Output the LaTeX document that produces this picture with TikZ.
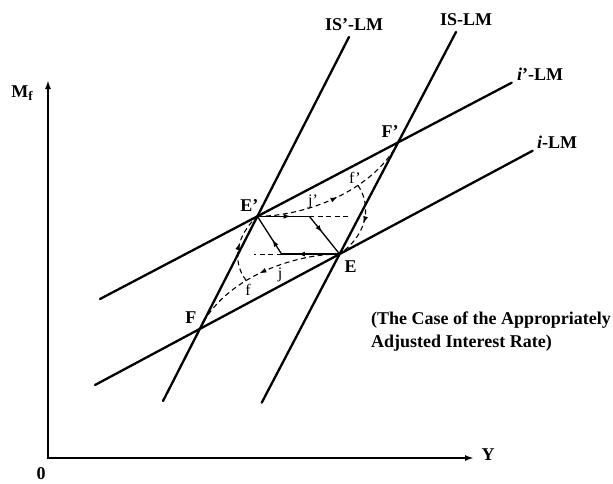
\documentclass[tikz,border=0pt]{standalone}
\usepackage{fontspec}
\setmainfont{Liberation Serif}
\usetikzlibrary{arrows.meta,decorations.markings,calc}
\begin{document}
\begin{tikzpicture}[x=1pt,y=1pt,
  bigline/.style={line width=2.3pt,line cap=round},
  axisline/.style={line width=1.8pt,line join=miter},
  solidseg/.style={line width=1.3pt},
  dsh/.style={line width=1.1pt,dash pattern=on 5pt off 3.5pt},
  lbl/.style={font=\fontsize{18}{22}\selectfont\bfseries,inner sep=0pt},
  sml/.style={font=\fontsize{16}{18}\selectfont,inner sep=0pt},
  marr/.style={postaction={decorate},decoration={markings,mark=at position #1 with {\arrow[solid]{Latex[length=7pt,width=5pt]}}}},
]
\useasboundingbox (0,0) rectangle (613,-483);

% axes
\coordinate (O) at (48,-458);
\coordinate (Ytip) at (474,-458);
\coordinate (Mtip) at (48,-80);
\draw[axisline,{Latex[length=9pt,width=6pt]}-{Latex[length=9pt,width=6pt]}] (Mtip) |- (Ytip);
\node[lbl] (Mf) at (22,-93) {M\raisebox{-3pt}{\fontsize{13}{13}\selectfont f}};
\node[lbl] (zero) at (41,-474) {0};
\node[lbl] (Ylab) at (488,-455) {Y};

% the four lines
\coordinate (ISpB) at (163,-401);   \coordinate (ISpT) at (349,-37);
\coordinate (ISB) at (261.7,-402.7); \coordinate (IST) at (456,-32);
\coordinate (LMpL) at (100,-299);   \coordinate (LMpR) at (511.7,-82.7);
\coordinate (LML) at (95,-385);     \coordinate (LMR) at (532.7,-150.7);
\draw[bigline] (ISpB) -- (ISpT);
\draw[bigline] (ISB) -- (IST);
\draw[bigline] (LMpL) -- (LMpR);
\draw[bigline] (LML) -- (LMR);

\node[lbl] (lISp) at (354,-25) {IS’-LM};
\node[lbl] (lIS) at (466,-20) {IS-LM};
\node[lbl] (lLMp) at (540,-74) {\textit{i}’-LM};
\node[lbl] (lLM) at (557,-142) {\textit{i}-LM};

% intersections
\coordinate (F) at (intersection of ISpB--ISpT and LML--LMR);
\coordinate (Ep) at (intersection of ISpB--ISpT and LMpL--LMpR);
\coordinate (E) at (intersection of ISB--IST and LML--LMR);
\coordinate (Fp) at (intersection of ISB--IST and LMpL--LMpR);

\coordinate (jp) at ($(Ep)+(52,0)$);
\coordinate (jpend) at ($(Ep)+(92,0)$);
\coordinate (j) at ($(E)+(-58,0)$);
\coordinate (jend) at ($(E)+(-86,0)$);

% solid adjustment paths
\draw[solidseg,marr=0.64] (Ep) -- (jp);
\draw[solidseg,marr=0.42] (jp) -- (E);
\draw[solidseg,marr=0.72] (E) -- (j);
\draw[solidseg,marr=0.38] (j) -- (Ep);
\draw[dsh] (jp) -- (jpend);
\draw[dsh] (j) -- (jend);

% dashed curves
\draw[dsh,marr=0.5] (Ep) .. controls ($(Ep)+(46,0)$) and ($(Fp)+(-26,-50)$) .. (Fp) coordinate[pos=0.65] (fp);
\draw[dsh,marr=0.5] (E) .. controls ($(E)+(-46,0)$) and ($(F)+(24,51)$) .. (F) coordinate[pos=0.6] (f);
\draw[dsh,marr=0.55] (f) .. controls ($(f)+(-14,18)$) and ($(Ep)+(-22,-20)$) .. (Ep);
\draw[dsh,marr=0.5] (fp) .. controls ($(fp)+(12,-17)$) and ($(E)+(31,22)$) .. (E);

% point labels
\node[lbl] (lEp) at ($(Ep)+(-8,11)$) {E’};
\node[lbl] (lE) at ($(E)+(11,-13)$) {E};
\node[lbl] (lF) at ($(F)+(-9,11)$) {F};
\node[lbl] (lFp) at ($(Fp)+(-8,11)$) {F’};
\node[sml] (ljp) at (313,-202) {j’};
\node[sml] (lj) at (280,-275) {j};
\node[sml] (lf) at (248,-290) {f};
\node[sml] (lfp) at (355,-178) {f’};

\node[lbl,align=left,anchor=north west,font=\fontsize{18}{23}\selectfont\bfseries] (note) at (371,-312)
  {(The Case of the Appropriately\\Adjusted Interest Rate)};
\end{tikzpicture}
\end{document}
